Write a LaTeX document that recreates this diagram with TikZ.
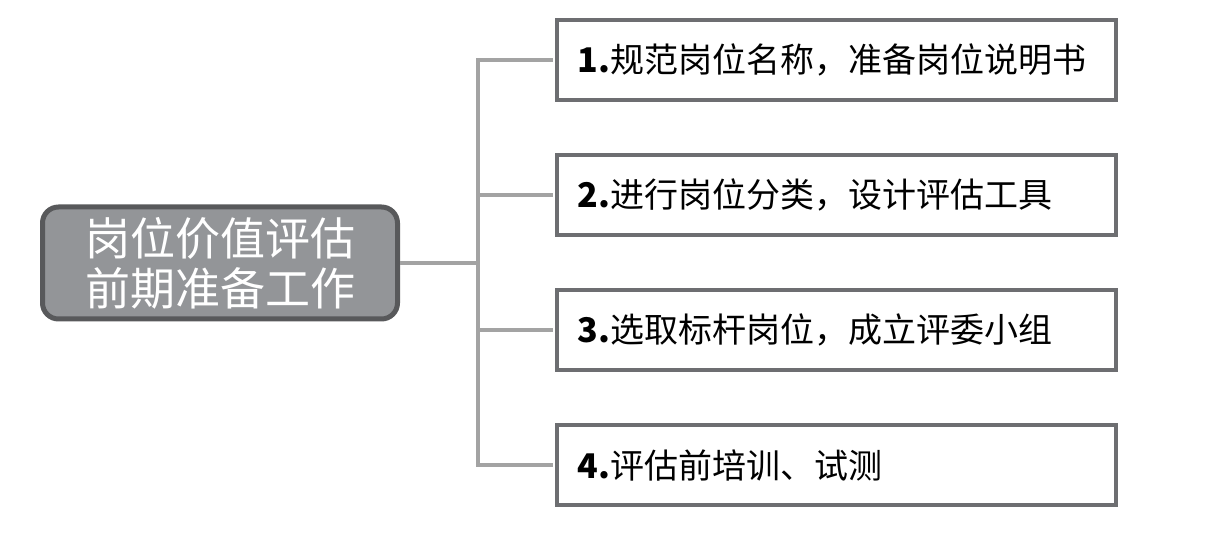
\documentclass[tikz,border=0pt]{standalone}
\usepackage{fontspec}
\setmainfont{Noto Sans CJK SC}
\usepackage{xcolor}
\usetikzlibrary{positioning}
\definecolor{boxline}{HTML}{6D6E71}
\definecolor{linkgrey}{HTML}{A3A3A3}
\definecolor{rootfill}{HTML}{939598}
\definecolor{rootline}{HTML}{58595B}

\begin{document}
\begin{tikzpicture}[x=1pt,y=-1pt,
  item/.style={draw=boxline,line width=4pt,fill=white,text width=517pt,inner xsep=21pt,minimum height=80pt,align=left,font=\fontsize{34}{40}\selectfont},
  link/.style={draw=linkgrey,line width=4pt,shorten >=2pt}]
  \useasboundingbox (0,0) rectangle (1215,534);
  \node[draw=rootline,fill=rootfill,line width=5pt,rounded corners=16pt,minimum width=355pt,minimum height=112pt,text=white,align=center,font=\fontsize{45}{50}\selectfont] (root) at (220,263) {岗位价值评估\\前期准备工作};
  \node[item] (s1) at (836,60) {\textbf{1.}规范岗位名称，准备岗位说明书};
  \node[item] (s2) at (836,195) {\textbf{2.}进行岗位分类，设计评估工具};
  \node[item] (s3) at (836,330) {\textbf{3.}选取标杆岗位，成立评委小组};
  \node[item] (s4) at (836,465) {\textbf{4.}评估前培训、试测};
  \coordinate (hub) at (478,263);
  \draw[link,shorten >=0pt] (root.east) -- (hub);
  \draw[link,shorten <=2pt] (s1.west) -| (hub) |- (s4.west);
  \foreach \i in {2,3} \draw[link] (hub |- s\i.west) -- (s\i.west);
\end{tikzpicture}
\end{document}
